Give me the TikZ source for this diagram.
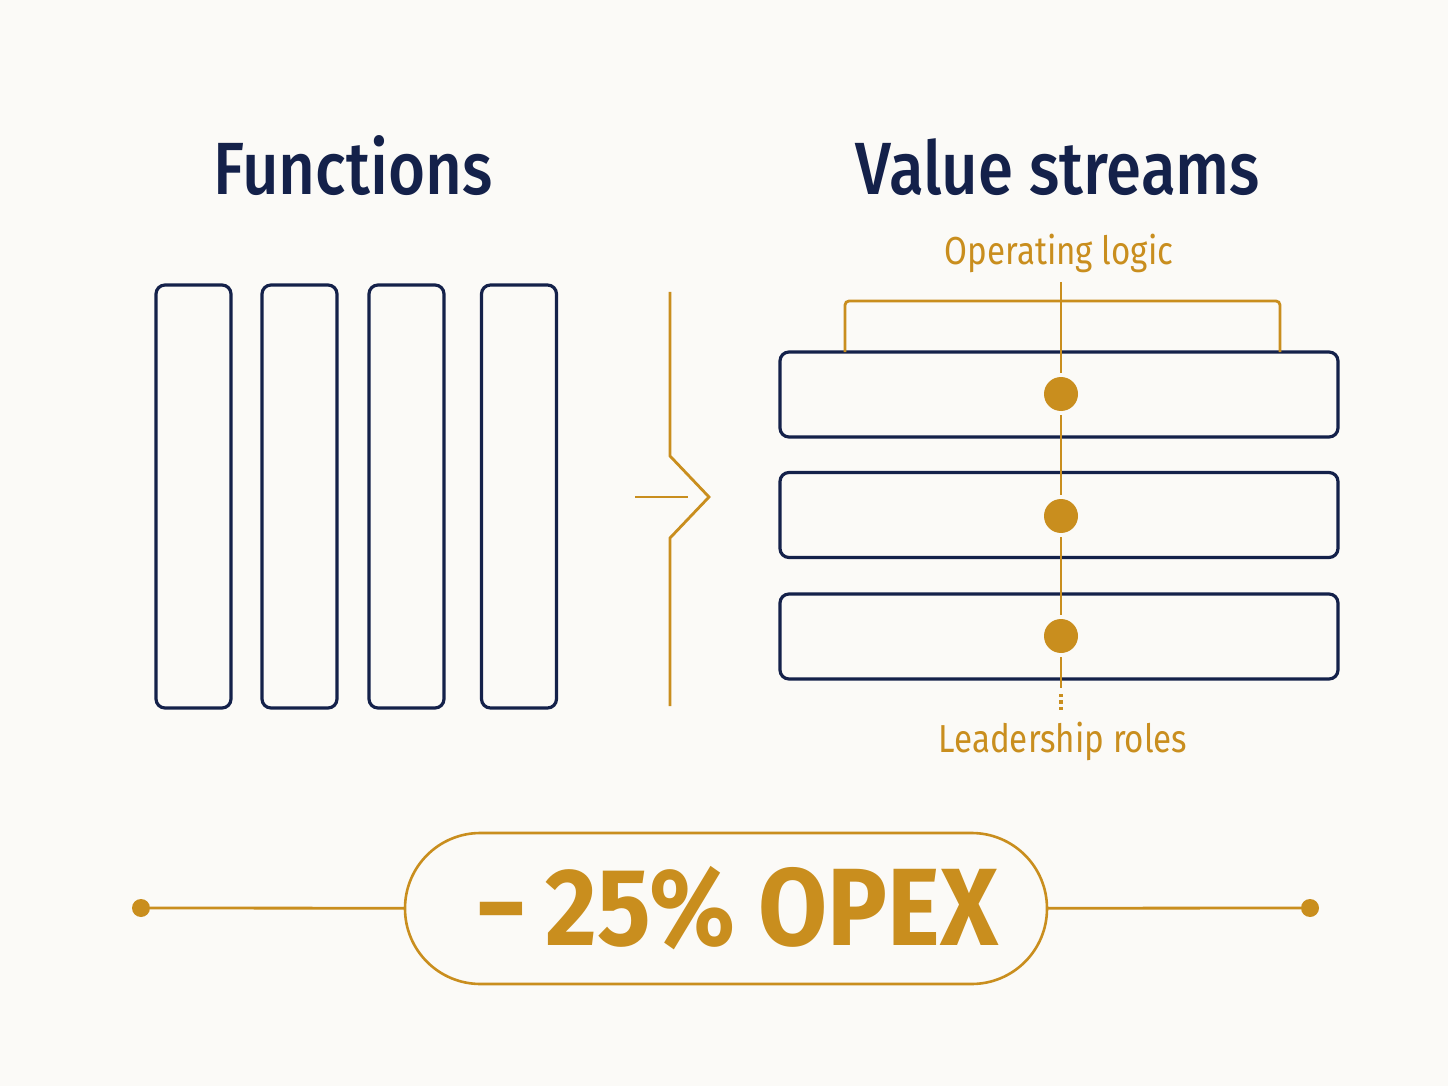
\documentclass[tikz,border=0pt]{standalone}
\usepackage{fontspec}
\setmainfont{Fira Sans}[FakeStretch=0.85]
\newfontfamily\headfont{Fira Sans Medium}[FakeStretch=0.86]
\newfontfamily\opexfont{Fira Sans}[FakeStretch=0.91]
\usetikzlibrary{positioning,calc}
\definecolor{navy}{HTML}{14214A}
\definecolor{gold}{HTML}{C98E1E}
\definecolor{paper}{HTML}{FBFAF7}

\begin{document}
\begin{tikzpicture}[
  x=0.5pt,y=-0.5pt,
  every node/.style={inner sep=0pt,outer sep=0pt},
  head/.style={text=navy,font=\headfont\fontsize{37}{40}\selectfont,anchor=base},
  tag/.style={text=gold,font=\fontsize{19.5}{22}\selectfont,anchor=base},
  col/.style={draw=navy,line width=1.6pt,rounded corners=4.5pt,minimum width=37.5pt,minimum height=211.5pt},
  row/.style={draw=navy,line width=1.6pt,rounded corners=4.5pt,minimum width=279pt,minimum height=42.5pt},
  link/.style={draw=gold,line width=1.4pt},
  dot/.style={circle,fill=gold,minimum size=17pt,outer sep=2pt},
  knob/.style={circle,fill=gold,minimum size=9pt},
  pill/.style={draw=gold,line width=1.3pt,rounded corners=37.7pt,minimum width=321pt,minimum height=75.5pt}
]
\useasboundingbox[fill=paper] (0,0) rectangle (1448,1086);
\node[head] (fun) at (353,195) {Functions};
\node[head] (vs) at (1058,195) {Value streams};
\foreach \x/\n in {193.5/1,299.5/2,406.5/3,519/4}
  \node[col] (c\n) at (\x,496.5) {};
\foreach \y/\n in {394.5/1,515/2,636.5/3}
  \node[row] (r\n) at (1059,\y) {};
\draw[link] (670,292) -- (670,456) -- (709,497) -- (670,538) -- (670,706);
\draw[link] (635,497) -- (688,497);
\node[tag] (oplab) at (1059,264) {Operating logic};
\coordinate (axtop) at (1061,282);
\draw[link,rounded corners=2pt] ($(r1.north west)+(65,0)$) |- ($(r1.north east)+(-58,-51)$) -- ($(r1.north east)+(-58,0)$);
\node[dot] (d1) at (1061,394) {};
\node[dot] (d2) at (1061,516) {};
\node[dot] (d3) at (1061,636) {};
\coordinate (axsolid) at (1061,688);
\coordinate (axdots) at (1061,694);
\coordinate (axend) at (1061,710);
\draw[link] (axtop) -- (d1) -- (d2) -- (d3) -- (axsolid);
\draw[link,line width=1.6pt,dash pattern=on 1.6pt off 1.6pt] (axdots) -- (axend);
\node[tag] (lead) at (1063,752) {Leadership roles};
\node[pill] (opex) at (726,908.5) {};
\node[text=gold,font=\opexfont\bfseries\fontsize{55}{60}\selectfont] (opexlab) at (737,908.5) {−\,25\% OPEX};
\node[knob] (lk) at (141,908) {};
\node[knob] (rk) at (1310,908) {};
\draw[link] (lk) -- (opex);
\draw[link] (opex) -- (rk);
\end{tikzpicture}
\end{document}
